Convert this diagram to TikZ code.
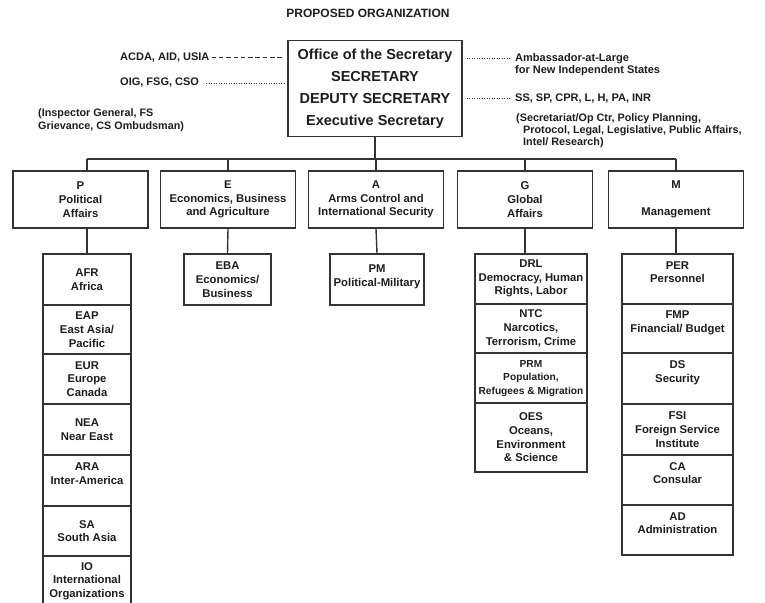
\documentclass[tikz,border=0pt]{standalone}
\usepackage{fontspec}
\setmainfont{Liberation Sans}
\definecolor{ink}{HTML}{333333}
\definecolor{txt}{HTML}{1E1E1E}
\begin{document}
\begin{tikzpicture}[x=1pt,y=-1pt,
  every node/.style={text=txt, inner sep=0pt},
  box/.style={draw=ink, line width=1.4pt, align=center, font=\bfseries\fontsize{11.3}{13.7}\selectfont},
  lvl/.style={box, minimum width=135pt, minimum height=57pt},
  pcell/.style={box, minimum width=88pt},
  gcell/.style={box, minimum width=112pt},
  mcell/.style={box, minimum width=111pt},
  smalltext/.style={font=\bfseries\fontsize{10.2}{13.5}\selectfont},
  lab/.style={align=left, font=\bfseries\fontsize{11}{12.5}\selectfont},
  wire/.style={draw=ink, line width=1.4pt},
  dashline/.style={draw=ink, line width=1pt, dash pattern=on 4.5pt off 2.8pt},
  dotline/.style={draw=ink, line width=0.9pt, dash pattern=on 0.9pt off 1.6pt},
]
\fill[white] (0,0) rectangle (765,602);
\useasboundingbox (0,0) rectangle (765,602);

% title
\node[font=\bfseries\fontsize{12}{15}\selectfont] (title) at (368,13) {PROPOSED ORGANIZATION};

% office of the secretary
\node[box, minimum width=174pt, minimum height=96pt, font=\bfseries\fontsize{14.5}{22}\selectfont] (O) at (375,88.5)
  {Office of the Secretary\\SECRETARY\\DEPUTY SECRETARY\\Executive Secretary};

% left side labels
\node[lab, anchor=west] (acda) at (120,58) {ACDA, AID, USIA};
\node[lab, anchor=west] (oig) at (120,83) {OIG, FSG, CSO};
\node[lab, anchor=north west, font=\bfseries\fontsize{10.8}{13.5}\selectfont] (ig) at (38,108) {(Inspector General, FS\\Grievance, CS Ombudsman)};
\draw[dashline, shorten <=2pt, shorten >=3pt] (acda.east) -- (acda.east -| O.west);
\draw[dotline, shorten <=7pt, shorten >=3pt] (oig.east) -- (oig.east -| O.west);

% right side labels
\node[lab, anchor=north west] (amb) at (515,53) {Ambassador-at-Large\\for New Independent States};
\coordinate (ambrow) at (511,58);
\draw[dotline, shorten <=4pt] (O.east |- ambrow) -- (ambrow);
\node[lab, anchor=west] (ss) at (515,98.5) {SS, SP, CPR, L, H, PA, INR};
\draw[dotline, shorten <=4pt, shorten >=4pt] (O.east |- ss.west) -- (ss.west);
\node[lab, anchor=north west, font=\bfseries\fontsize{10.8}{11.8}\selectfont] (sec) at (516,113.5)
  {(Secretariat/Op Ctr, Policy Planning,\\\hspace*{7pt}Protocol, Legal, Legislative, Public Affairs,\\\hspace*{7pt}Intel/ Research)};

% level 1
\node[lvl] (P) at (80.5,199.5) {P\\Political\\Affairs};
\node[lvl] (E) at (228,199.5) {E\\Economics, Business\\and Agriculture};
\node[lvl] (A) at (376,199.5) {A\\Arms Control and\\International Security};
\node[lvl] (G) at (525,199.5) {G\\Global\\Affairs};
\node[lvl] (M) at (676,199.5) {M\\\mbox{}\\Management};

% P column
\node[pcell, minimum height=51pt] (AFR) at (87,279.5) {AFR\\Africa};
\node[pcell, minimum height=49pt] (EAP) at (87,329.5) {EAP\\East Asia/\\Pacific};
\node[pcell, minimum height=50pt] (EUR) at (87,379) {EUR\\Europe\\Canada};
\node[pcell, minimum height=51pt] (NEA) at (87,429.5) {NEA\\Near East};
\node[pcell, minimum height=51pt] (ARA) at (87,480.5) {ARA\\Inter-America\\\mbox{}};
\node[pcell, minimum height=50pt] (SA) at (87,531) {SA\\South Asia};
\node[pcell, minimum height=50pt] (IO) at (87,581) {IO\\International\\Organizations};

% E and A children
\node[box, minimum width=87pt, minimum height=51pt] (EBA) at (227.5,279.5) {EBA\\Economics/\\Business};
\node[box, minimum width=94pt, minimum height=51pt] (PM) at (377,279.5) {PM\\Political-Military\\[-6pt]\mbox{}};

% G column
\node[gcell, minimum height=50pt] (DRL) at (531,279) {\mbox{}\\[-7pt]DRL\\Democracy, Human\\Rights, Labor};
\node[gcell, minimum height=49pt] (NTC) at (531,328.5) {NTC\\Narcotics,\\Terrorism, Crime};
\node[gcell, minimum height=50pt, smalltext] (PRM) at (531,378) {\mbox{}\\[-6pt]PRM\\Population,\\Refugees \& Migration};
\node[gcell, minimum height=69pt] (OES) at (531,437.5) {OES\\Oceans,\\Environment\\\& Science};

% M column
\node[mcell, minimum height=50pt] (PER) at (677.5,279) {PER\\Personnel\\\mbox{}};
\node[mcell, minimum height=49pt] (FMP) at (677.5,328.5) {FMP\\Financial/ Budget\\\mbox{}};
\node[mcell, minimum height=51pt] (DS) at (677.5,378.5) {DS\\Security\\\mbox{}};
\node[mcell, minimum height=51pt] (FSI) at (677.5,429.5) {FSI\\Foreign Service\\Institute};
\node[mcell, minimum height=50pt] (CA) at (677.5,480) {CA\\Consular\\\mbox{}};
\node[mcell, minimum height=50pt] (AD) at (677.5,530) {AD\\Administration\\\mbox{}};

% connectors
\coordinate (bus) at (0,159);
\draw[wire] (AFR.north |- bus) -- (M.north |- bus);
\draw[wire] (O.south) -- (O.south |- bus);
\draw[wire] (AFR.north |- bus) -- (AFR.north |- P.north);
\draw[wire] (E.north) -- (E.north |- bus);
\draw[wire] (A.north) -- (A.north |- bus);
\draw[wire] (G.north) -- (G.north |- bus);
\draw[wire] (M.north) -- (M.north |- bus);
\draw[wire] (AFR.north |- P.south) -- (AFR.north);
\draw[wire] (E.south) -- (EBA.north);
\draw[wire] (A.south) -- (PM.north);
\draw[wire] (G.south) -- (G.south |- DRL.north);
\draw[wire] (M.south) -- (M.south |- PER.north);
\end{tikzpicture}
\end{document}
